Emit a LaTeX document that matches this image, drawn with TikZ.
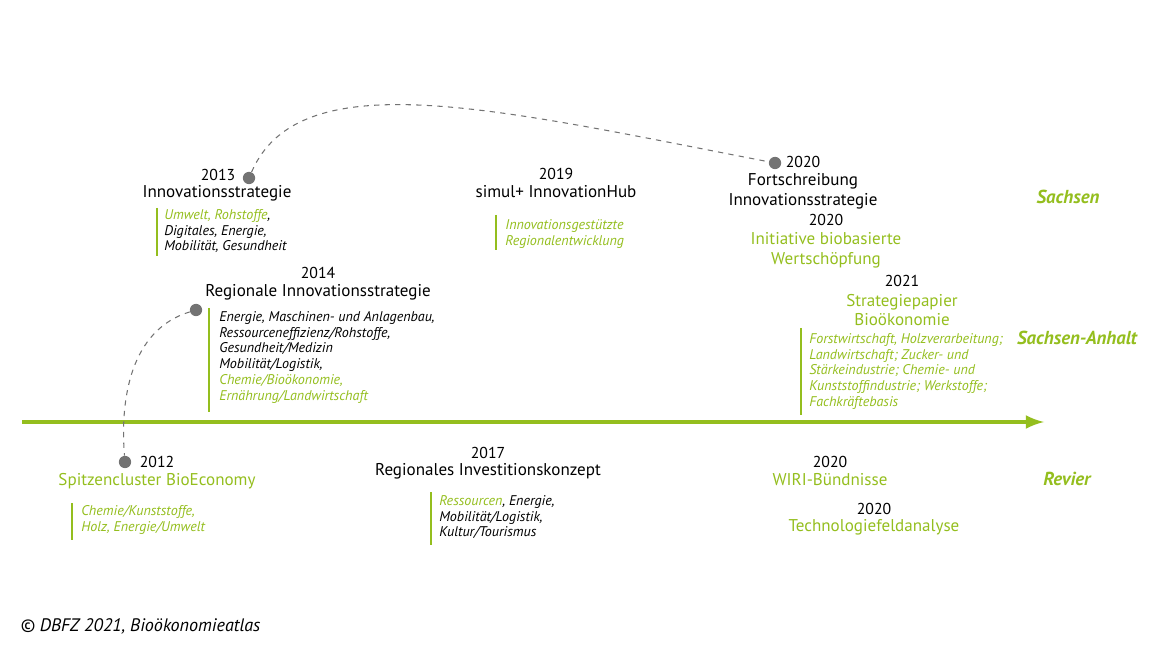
\documentclass[tikz,border=0pt]{standalone}
\usepackage{fontspec}
\setmainfont{PT Sans}
\definecolor{bgreen}{RGB}{148,190,30}
\definecolor{dotgray}{RGB}{115,115,115}
\begin{document}
\begin{tikzpicture}[x=0.02cm,y=-0.02cm,
  year/.style={font=\fontsize{9}{11}\selectfont, inner sep=0pt},
  title/.style={font=\fontsize{9.7}{11.3}\selectfont, inner sep=0pt, align=center},
  gtitle/.style={title, text=bgreen},
  field/.style={font=\fontsize{8}{9}\selectfont\itshape, inner sep=0pt, anchor=north west, align=left},
  region/.style={font=\fontsize{10.7}{13}\selectfont\bfseries\itshape, text=bgreen, inner sep=0pt},
  bar/.style={draw=bgreen, line width=0.8pt},
  pin/.style={circle, fill=dotgray, inner sep=0pt, minimum size=7pt},
  link/.style={dotgray, dashed, line width=0.6pt}]
\useasboundingbox (0,0) rectangle (1170,658);
% timeline
\coordinate (t0) at (22,422);
\coordinate (t1) at (1044,422);
\draw[bgreen, line width=2.5pt, -latex] (t0) -- (t1);

% Sachsen
\node[pin] (p13) at (249,178) {};
\node[year] (y13) at (218,175) {2013};
\node[title] (n13) at (217,193) {Innovationsstrategie};
\draw[bar] (157,208) -- (157,256);
\node[field] (f13) at (164,209) {\textcolor{bgreen}{Umwelt, Rohstoffe},\\Digitales, Energie,\\Mobilität, Gesundheit};

\node[year] (y19) at (556,174) {2019};
\node[title] (n19) at (556,192) {simul+ InnovationHub};
\draw[bar] (496,215) -- (496,250);
\node[field, text=bgreen] (f19) at (505,219) {Innovationsgestützte\\Regionalentwicklung};

\node[pin] (p20) at (775,163) {};
\node[year] (y20) at (803,162) {2020};
\node[title, align=center] (n20) at (803,191) {Fortschreibung\\Innovationsstrategie};
\node[year] (y20b) at (826,220) {2020};
\node[gtitle] (n20b) at (826,250) {Initiative biobasierte\\Wertschöpfung};
\draw[link] (p13) .. controls (300,60) and (500,110) .. (p20);

% Sachsen-Anhalt
\node[pin] (p14) at (196,310) {};
\node[year] (y14) at (318,273) {2014};
\node[title] (n14) at (318,292) {Regionale Innovationsstrategie};
\draw[bar] (209,308) -- (209,412);
\node[field] (f14) at (219,311) {Energie, Maschinen- und Anlagenbau,\\Ressourceneffizienz/Rohstoffe,\\Gesundheit/Medizin\\Mobilität/Logistik,\\\textcolor{bgreen}{Chemie/Bioökonomie,}\\\textcolor{bgreen}{Ernährung/Landwirtschaft}};

\node[year] (y21) at (902,281) {2021};
\node[gtitle] (n21) at (902,310) {Strategiepapier\\Bioökonomie};
\draw[bar] (801,328) -- (801,415);
\node[field, text=bgreen] (f21) at (809,333) {Forstwirtschaft, Holzverarbeitung;\\Landwirtschaft; Zucker- und\\Stärkeindustrie; Chemie- und\\Kunststoffindustrie; Werkstoffe;\\Fachkräftebasis};

% Revier
\node[pin] (p12) at (125,462) {};
\node[year] (y12) at (157,462) {2012};
\node[gtitle] (n12) at (157,481) {Spitzencluster BioEconomy};
\draw[bar] (72,503) -- (72,540);
\node[field, text=bgreen] (f12) at (81,505) {Chemie/Kunststoffe,\\Holz, Energie/Umwelt};
\draw[link] (p14) .. controls (130,330) and (120,400) .. (p12);

\node[year] (y17) at (488,453) {2017};
\node[title] (n17) at (488,471) {Regionales Investitionskonzept};
\draw[bar] (431,492) -- (431,545);
\node[field] (f17) at (439,495) {\textcolor{bgreen}{Ressourcen}, Energie,\\Mobilität/Logistik,\\Kultur/Tourismus};

\node[year] (y20c) at (830,462) {2020};
\node[gtitle] (n20c) at (830,480) {WIRI-Bündnisse};
\node[year] (y20d) at (874,509) {2020};
\node[gtitle] (n20d) at (874,527) {Technologiefeldanalyse};

% regions
\node[region] (sn) at (1068,197) {Sachsen};
\node[region] (st) at (1077,338) {Sachsen-Anhalt};
\node[region] (rv) at (1067,479) {Revier};

\node[font=\fontsize{10.3}{13}\selectfont\itshape, anchor=west, inner sep=0pt] (src) at (20,626) {© DBFZ 2021, Bioökonomieatlas};
\end{tikzpicture}
\end{document}
